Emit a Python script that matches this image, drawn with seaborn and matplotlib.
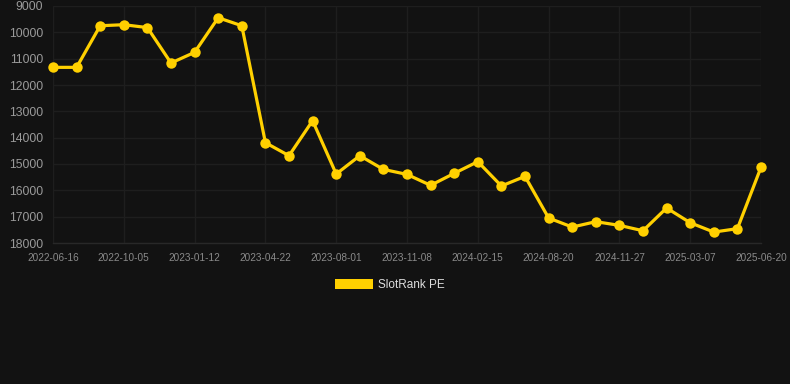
import matplotlib
matplotlib.use("Agg")
import matplotlib.pyplot as plt
from matplotlib.patches import Patch
import seaborn as sns
import pandas as pd

# SlotRank PE history (lower rank number = better, axis reversed)
tick_dates = ["2022-06-16", "2022-10-05", "2023-01-12", "2023-04-22", "2023-08-01",
              "2023-11-08", "2024-02-15", "2024-08-20", "2024-11-27", "2025-03-07",
              "2025-06-20"]
rank_values = [11330, 11330, 9750, 9710, 9820, 11165, 10760, 9445, 9750, 14190,
               14685, 13355, 15380, 14685, 15205, 15395, 15810, 15355, 14910, 15835,
               15470, 17050, 17395, 17190, 17330, 17535, 16670, 17230, 17585, 17455,
               15125]
y_ticks = [9000, 10000, 11000, 12000, 13000, 14000, 15000, 16000, 17000, 18000]

bg = "#121212"
line_color = "#FFD000"
grid_color = "#1e1e1e"

sns.set_theme(style="dark", rc={
    "figure.facecolor": bg,
    "axes.facecolor": bg,
    "savefig.facecolor": bg,
})
plt.rcParams["font.family"] = ["Liberation Sans", "DejaVu Sans"]

df = pd.DataFrame({"idx": range(len(rank_values)), "rank": rank_values})

fig = plt.figure(figsize=(7.9, 3.84), dpi=100)
ax = fig.add_axes([53 / 790, 1 - 243 / 384, 708 / 790, 237 / 384])

sns.lineplot(data=df, x="idx", y="rank", ax=ax, color=line_color, linewidth=2.3,
             marker="o", markersize=7.5, markeredgewidth=0, markerfacecolor=line_color,
             legend=False, zorder=3, clip_on=False)

ax.set_xlim(0, len(rank_values) - 1)
ax.set_ylim(18000, 9000)
ax.set_yticks(y_ticks)
ax.set_yticklabels([str(v) for v in y_ticks])
ax.set_xticks(list(range(0, len(rank_values), 3)))
ax.set_xticklabels(tick_dates)
ax.set_xlabel("")
ax.set_ylabel("")

ax.grid(True, color=grid_color, linewidth=1)
ax.tick_params(axis="y", length=0, pad=7, labelsize=8.8, labelcolor="#9a9a9a")
ax.tick_params(axis="x", length=0, pad=7, labelsize=7.2, labelcolor="#8a8a8a")
for side in ["top", "right", "left"]:
    ax.spines[side].set_visible(False)
ax.spines["bottom"].set_color("#282828")
ax.spines["bottom"].set_linewidth(1)

handle = Patch(facecolor=line_color, edgecolor="none", label="SlotRank PE")
fig.legend(handles=[handle], loc="center", bbox_to_anchor=(390 / 790, 1 - 285 / 384),
           frameon=False, fontsize=8.5, labelcolor="#dddddd",
           handlelength=3.2, handleheight=0.95, handletextpad=0.5)

fig.savefig("out.png", dpi=100)
